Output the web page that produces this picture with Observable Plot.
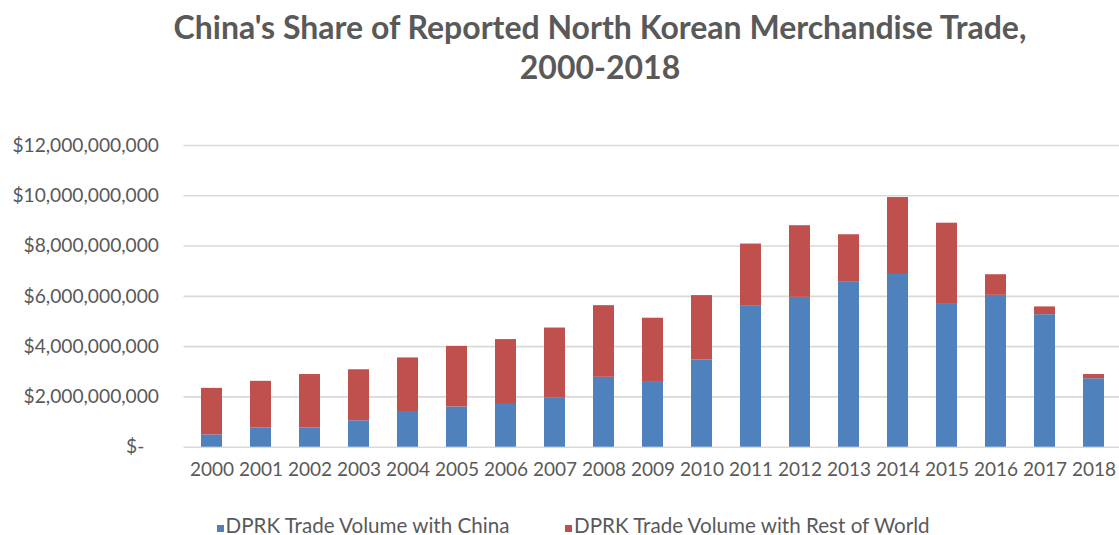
<!DOCTYPE html>
<html>
<head>
<meta charset="utf-8">
<script src="https://cdn.jsdelivr.net/npm/d3@7"></script>
<script src="https://cdn.jsdelivr.net/npm/@observablehq/plot@0.6"></script>
<style>
  html, body { margin: 0; padding: 0; background: #fff; width: 1119px; height: 535px; overflow: hidden; }
  #wrap { position: relative; width: 1119px; height: 535px; font-family: Lato, "Open Sans", sans-serif; color: #595959; }
  #title { position: absolute; left: 0; top: 7px; width: 1200px; text-align: center; font-weight: bold; font-size: 32px; line-height: 40px; }
  #chart { position: absolute; left: 0; top: 100px; }
  #legend { position: absolute; left: 0; top: 512px; width: 1119px; height: 26px; font-size: 20.6px; line-height: 26px; }
  .item { position: absolute; top: 0; white-space: nowrap; }
  .sw { display: inline-block; width: 7px; height: 7px; margin-right: 2px; vertical-align: 1px; }
</style>
</head>
<body>
<div id="wrap">
  <div id="title"></div>
  <div id="chart"></div>
  <div id="legend"></div>
</div>
<script>
const titleLines = ["China's Share of Reported North Korean Merchandise Trade,", "2000-2018"];
const years = ["2000","2001","2002","2003","2004","2005","2006","2007","2008","2009","2010","2011","2012","2013","2014","2015","2016","2017","2018"];
const chinaTrade = [0.49e9,0.77e9,0.76e9,1.05e9,1.42e9,1.60e9,1.70e9,1.97e9,2.78e9,2.61e9,3.47e9,5.63e9,5.96e9,6.56e9,6.87e9,5.68e9,6.04e9,5.27e9,2.72e9];
const restTrade  = [1.85e9,1.85e9,2.13e9,2.03e9,2.13e9,2.41e9,2.58e9,2.77e9,2.85e9,2.52e9,2.56e9,2.45e9,2.85e9,1.89e9,3.06e9,3.23e9,0.82e9,0.31e9,0.17e9];
const seriesNames = ["DPRK Trade Volume with China", "DPRK Trade Volume with Rest of World"];
const seriesColors = ["#4F81BD", "#C0504D"];
const yTicks = [0, 2e9, 4e9, 6e9, 8e9, 10e9, 12e9];

document.getElementById("title").innerHTML = titleLines.join("<br>");

const data = years.flatMap((yr, i) => [
  {year: yr, series: seriesNames[0], value: chinaTrade[i]},
  {year: yr, series: seriesNames[1], value: restTrade[i]}
]);

const fmt = d3.format(",");
const chart = Plot.plot({
  width: 1119,
  height: 395,
  marginTop: 45,
  marginBottom: 48.3,
  marginLeft: 183.5,
  marginRight: 0,
  style: {fontFamily: "Lato, 'Open Sans', sans-serif", fontSize: "19px", color: "#595959", background: "white", overflow: "visible"},
  x: {domain: years, range: [183.5, 1121.5], paddingInner: 0.58, paddingOuter: 0.29, label: null},
  y: {domain: [0, 12e9], label: null},
  color: {domain: seriesNames, range: seriesColors},
  marks: [
    Plot.ruleY(yTicks, {stroke: "#d9d9d9", strokeWidth: 1.6}),
    Plot.barY(data, {x: "year", y: "value", fill: "series"}),
    Plot.axisX({tickSize: 0, tickPadding: 15, fill: "#595959", fontSize: 19, label: null}),
    Plot.axisY({ticks: yTicks, tickSize: 0, tickPadding: 25, fill: "#595959", fontSize: 19.2, label: null,
      tickFormat: d => d === 0 ? "$-\u00a0\u00a0\u00a0" : "$" + fmt(d)})
  ]
});
document.getElementById("chart").appendChild(chart);

const legend = document.getElementById("legend");
const legendLeft = [216.5, 565];
seriesNames.forEach((name, i) => {
  const it = document.createElement("div");
  it.className = "item";
  it.style.left = legendLeft[i] + "px";
  it.innerHTML = `<span class="sw" style="background:${seriesColors[i]}"></span>${name}`;
  legend.appendChild(it);
});
</script>
</body>
</html>
